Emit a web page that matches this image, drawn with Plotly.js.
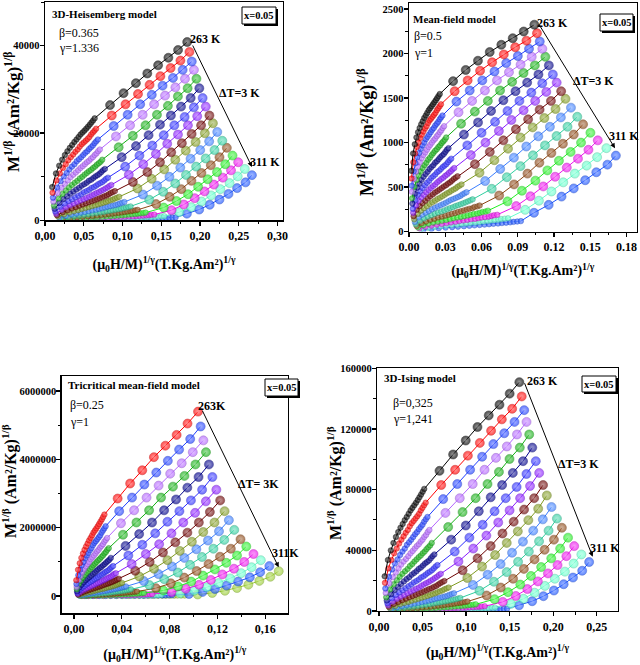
<!DOCTYPE html>
<html><head><meta charset="utf-8">
<script src="https://cdn.plot.ly/plotly-3.0.1.min.js"></script>
<style>html,body{margin:0;padding:0;background:#fff}#chart{width:640px;height:665px}</style>
</head><body><div id="chart"></div>
<script>
// Isotherm temperatures (K), step 3 K
const temps = [263,266,269,272,275,278,281,284,287,290,293,296,299,302,305,308,311];
// Applied field points (T)
const fieldT = [0.05,0.10,0.15,0.20,0.25,0.30,0.35,0.40,0.45,0.50,0.55,0.60,0.65,0.70,0.75,0.80,0.85,0.90,0.95,1.00,
                1.5,2.0,2.5,3.0,3.5,4.0,4.5,5.0];
// Magnetization M (Am²/kg) for each isotherm, at the fields above
const M263 = [26.1,29.6,31.3,32.5,33.4,34.1,34.7,35.2,35.7,36.1,36.5,36.9,37.2,37.5,37.8,38.1,38.4,38.7,39.0,39.3, 41.1,42.6,43.8,44.9,45.8,46.6,47.4,48.2];
const M266 = [24.4,27.9,29.6,30.8,31.6,32.4,33.0,33.5,34.0,34.4,34.9,35.3,35.6,35.9,36.2,36.5,36.9,37.2,37.5,37.8, 39.7,41.2,42.5,43.6,44.6,45.5,46.3,47.2];
const M269 = [22.7,26.0,27.7,28.9,29.7,30.5,31.1,31.6,32.2,32.6,33.0,33.4,33.8,34.1,34.5,34.8,35.1,35.5,35.8,36.1, 38.2,39.8,41.2,42.4,43.5,44.4,45.3,46.2];
const M272 = [21.1,24.3,25.9,27.0,27.9,28.7,29.3,29.8,30.3,30.8,31.2,31.6,32.0,32.3,32.7,33.0,33.4,33.7,34.1,34.4, 36.6,38.3,39.8,41.2,42.3,43.3,44.3,45.3];
const M275 = [19.3,22.4,24.0,25.1,26.0,26.7,27.3,27.8,28.4,28.8,29.3,29.7,30.1,30.4,30.8,31.1,31.5,31.8,32.1,32.5, 34.8,36.7,38.3,39.8,41.0,42.2,43.2,44.3];
const M278 = [17.7,20.6,22.2,23.2,24.1,24.8,25.4,25.9,26.5,26.9,27.3,27.8,28.1,28.5,28.9,29.2,29.5,29.9,30.3,30.6, 33.0,35.0,36.8,38.4,39.7,40.9,42.0,43.2];
const M281 = [16.0,18.8,20.3,21.3,22.1,22.8,23.4,23.9,24.5,24.9,25.3,25.8,26.1,26.5,26.9,27.2,27.5,27.9,28.3,28.6, 31.1,33.3,35.1,36.8,38.3,39.5,40.8,42.0];
const M284 = [14.5,17.1,18.6,19.6,20.3,21.0,21.6,22.1,22.6,23.0,23.5,23.9,24.3,24.6,25.0,25.3,25.7,26.0,26.4,26.7, 29.3,31.6,33.6,35.4,36.9,38.3,39.6,40.9];
const M287 = [13.1,15.6,16.9,17.9,18.6,19.3,19.9,20.4,20.9,21.3,21.7,22.1,22.5,22.8,23.2,23.5,23.9,24.3,24.6,24.9, 27.5,29.9,32.0,33.9,35.5,37.0,38.3,39.7];
const M290 = [11.7,14.0,15.3,16.2,16.9,17.6,18.1,18.6,19.1,19.5,19.9,20.3,20.7,21.0,21.4,21.7,22.0,22.4,22.7,23.0, 25.7,28.3,30.5,32.5,34.2,35.7,37.1,38.6];
const M293 = [10.3,12.5,13.7,14.5,15.2,15.8,16.3,16.8,17.2,17.6,18.0,18.4,18.8,19.1,19.4,19.7,20.0,20.4,20.7,21.0, 23.8,26.5,28.8,30.9,32.7,34.3,35.8,37.3];
const M296 = [9.0,11.0,12.1,12.9,13.5,14.1,14.6,15.0,15.4,15.8,16.2,16.5,16.9,17.2,17.5,17.8,18.1,18.4,18.7,19.0, 21.9,24.7,27.1,29.25,31.1,32.75,34.3,35.9];
const M299 = [7.8,9.6,10.6,11.4,11.9,12.5,12.9,13.3,13.7,14.1,14.4,14.8,15.1,15.4,15.7,16.0,16.2,16.6,16.8,17.1, 20.1,23.0,25.5,27.8,29.7,31.4,33.0,34.7];
const M302 = [6.7,8.4,9.3,10.0,10.5,11.0,11.4,11.8,12.2,12.5,12.8,13.1,13.4,13.7,14.0,14.2,14.5,14.8,15.0,15.3, 18.4,21.4,23.9,26.2,28.2,29.9,31.6,33.3];
const M305 = [5.8,7.3,8.1,8.7,9.2,9.7,10.1,10.4,10.8,11.1,11.4,11.7,11.9,12.2,12.5,12.7,12.9,13.2,13.5,13.7, 16.9,19.9,22.5,24.8,26.8,28.6,30.3,32.0];
const M308 = [5.0,6.3,7.1,7.6,8.1,8.5,8.8,9.2,9.5,9.8,10.0,10.3,10.6,10.8,11.1,11.3,11.5,11.8,12.0,12.2, 15.6,18.6,21.2,23.5,25.5,27.2,28.9,30.6];
const M311 = [4.2,5.4,6.1,6.6,7.0,7.4,7.7,8.0,8.3,8.55,8.8,9.05,9.3,9.5,9.75,9.95,10.15,10.4,10.6,10.8, 14.5,17.3,19.8,22.0,24.0,25.8,27.4,29.2];
const isotherms = [M263,M266,M269,M272,M275,M278,M281,M284,M287,M290,M293,M296,M299,M302,M305,M308,M311];

// Critical-exponent models (one panel each)
const modelNames = ['3D-Heisemberg model','Mean-field model','Tricritical mean-field model','3D-Ising model'];
const betas  = [0.365, 0.5, 0.25, 0.325];
const gammas = [1.336, 1, 1, 1.241];
const betaLabels  = ['β=0.365','β=0.5','β=0.25','β=0,325'];
const gammaLabels = ['γ=1.336','γ=1','γ=1','γ=1,241'];
const topLabels = ['263 K','263 K','263K','263 K'];
const botLabels = ['311 K','311 K','311K','311 K'];
const dtLabels  = ['ΔT=3 K','ΔT=3 K','ΔT= 3K','ΔT=3 K'];
const mfTickVals = [0,0.03,0.06,0.09,0.12,0.15,0.18];
const mfTickText = ['0.00','0.03','0.06','0.09','0.12','0.15','0.18'];

const palette = ['#000000','#ff0000','#1f3fff','#b566ff','#14b014','#00008b','#2e2eff','#8a1cff',
                 '#6b0000','#7f9a1f','#3a7dff','#2fcf9f','#8b4513','#22ee22','#ee10ee','#66ffcc','#1a53ff','#9acd32'];
const colorStart = [0,0,1,0];

// ---------- layout geometry (pixels) ----------
const W = 640, H = 665;
const boxes = [ // left, right, top, bottom
  [45, 283, 2, 220.3],
  [409, 636.5, 3, 231.5],
  [61.7, 288, 376, 613.3],
  [377.3, 617.7, 368.3, 611]
];
const xRanges = [[0,0.307],[0,0.1883],[-0.0103,0.179],[-0.002,0.274]];
const yRanges = [[0,50000],[0,2567],[-506000,6.44e6],[0,160000]];
const xDt = [0.05,0.03,0.04,0.05];
const yDt = [20000,500,2000000,40000];

const FONT = '"Liberation Serif","Times New Roman",serif';
const px = v => v / W, py = v => 1 - v / H;

function mix(hex, target, t) {
  const a = parseInt(hex.slice(1), 16), b = parseInt(target.slice(1), 16);
  const ch = s => [(s >> 16) & 255, (s >> 8) & 255, s & 255];
  const A = ch(a), B = ch(b);
  return 'rgb(' + A.map((v, i) => Math.round(v + (B[i] - v) * t)).join(',') + ')';
}

const traces = [];
for (let p = 0; p < 4; p++) {
  const sfx = p === 0 ? '' : String(p + 1);
  for (let k = isotherms.length - 1; k >= 0; k--) {
    const M = isotherms[k];
    const xs = fieldT.map((h, i) => Math.pow(h / M[i], 1 / gammas[p]));
    const ys = M.map(m => Math.pow(m, 1 / betas[p]));
    const col = palette[k + colorStart[p]];
    traces.push({
      type: 'scatter', mode: 'lines+markers', x: xs, y: ys,
      xaxis: 'x' + sfx, yaxis: 'y' + sfx, name: temps[k] + ' K',
      line: {color: col, width: 1},
      marker: {color: col, size: fieldT.map(h => h <= 1 ? 5.5 : 9),
               line: {color: mix(col, '#000000', 0.25), width: 0.6},
               gradient: {type: 'radial', color: mix(col, '#ffffff', 0.45)}},
      hoverinfo: 'skip'
    });
  }
}

const layout = {
  width: W, height: H, margin: {l: 0, r: 0, t: 0, b: 0},
  paper_bgcolor: '#fff', plot_bgcolor: '#fff', showlegend: false,
  separators: ',.', font: {family: FONT, color: '#000'},
  annotations: [], shapes: []
};

const yTitle = 'M<sup>1/β</sup> (Am²/Kg)<sup>1/β</sup>';
const xTitle = '(μ<sub>0</sub>H/M)<sup>1/γ</sup>(T.Kg.Am²)<sup>1/γ</sup>';
const xStand = [17, 12, 14, 14];
const yTitleXY = [[12,112],[366,132],[10,481],[334,483]];
const yTitleSize = [17, 18, 16, 16];

for (let p = 0; p < 4; p++) {
  const sfx = p === 0 ? '' : String(p + 1);
  const [L, R, T, B] = boxes[p];
  const common = {
    showgrid: false, zeroline: false, showline: true, linecolor: '#000', linewidth: 1.4,
    mirror: true, ticks: 'outside', ticklen: 4, tickwidth: 1.3, tickcolor: '#000'
  };
  const xa = Object.assign({}, common, {
    domain: [px(L), px(R)], range: xRanges[p], anchor: 'y' + sfx,
    tickfont: {family: FONT, size: 12, color: '#000', weight: 'bold'},
    title: {text: '<b>' + xTitle + '</b>', font: {family: FONT, size: 14, color: '#000'}, standoff: xStand[p]},
    minor: {ticks: 'outside', ticklen: 2.5, tickwidth: 1, tickcolor: '#000', dtick: xDt[p] / 2, tick0: 0}
  });
  if (p === 1) { xa.tickmode = 'array'; xa.tickvals = mfTickVals; xa.ticktext = mfTickText; }
  else { xa.dtick = xDt[p]; xa.tick0 = 0; xa.tickformat = '.2f'; }
  const ya = Object.assign({}, common, {
    domain: [py(B), py(T)], range: yRanges[p], anchor: 'x' + sfx,
    dtick: yDt[p], tick0: 0, tickformat: 'd', ticklabelstandoff: -2,
    tickfont: {family: FONT, size: 10.5, color: '#000', weight: 'bold'},
    minor: {ticks: 'outside', ticklen: 2.5, tickwidth: 1, tickcolor: '#000', dtick: yDt[p] / 2, tick0: 0}
  });
  layout['xaxis' + sfx] = xa;
  layout['yaxis' + sfx] = ya;
}

// ----- text annotations (pixel positions) -----
const nameXY  = [[50,14],[411,19],[66,385],[382,378]];
const betaXY  = [[57,33],[412,36],[68,405],[391,403]];
const gammaXY = [[57,48],[412,53],[68,422],[391,419]];
const topXY   = [[205,39],[552,23],[212,406],[542,381]];
const dtXY    = [[239,93],[593,81],[258,484],[578,464]];
const botXY   = [[265,162],[624,136],[285,553],[605,548]];
const arrowHead = [[252,167],[615,148.3],[278.7,567.3],[592.7,556.7]];
const arrowOff  = [[-60,-123],[-76.7,-125],[-77,-158],[-68.7,-175]];
const xBox = [[242,276,7,24],[600,633,14,31],[265,298,379,396],[582,616,376,392]];

const ann = (x, y, text, opts) => Object.assign({
  xref: 'paper', yref: 'paper', x: px(x), y: py(y), text: text, showarrow: false,
  xanchor: 'center', yanchor: 'middle', font: {family: FONT, size: 11, color: '#000'}
}, opts || {});

for (let p = 0; p < 4; p++) {
  layout.annotations.push(ann(yTitleXY[p][0], yTitleXY[p][1], '<b>' + yTitle + '</b>',
    {textangle: -90, font: {family: FONT, size: yTitleSize[p], color: '#000'}}));
  layout.annotations.push(ann(nameXY[p][0], nameXY[p][1], '<b>' + modelNames[p] + '</b>', {xanchor: 'left'}));
  layout.annotations.push(ann(betaXY[p][0], betaXY[p][1], betaLabels[p], {xanchor: 'left', font: {family: FONT, size: 12, color: '#000'}}));
  layout.annotations.push(ann(gammaXY[p][0], gammaXY[p][1], gammaLabels[p], {xanchor: 'left', font: {family: FONT, size: 12, color: '#000'}}));
  layout.annotations.push(ann(topXY[p][0], topXY[p][1], '<b>' + topLabels[p] + '</b>', {font: {family: FONT, size: 12, color: '#000'}}));
  layout.annotations.push(ann(dtXY[p][0], dtXY[p][1], '<b>' + dtLabels[p] + '</b>', {font: {family: FONT, size: 12, color: '#000'}}));
  layout.annotations.push(ann(botXY[p][0], botXY[p][1], '<b>' + botLabels[p] + '</b>', {font: {family: FONT, size: 12, color: '#000'}}));
  layout.annotations.push({
    xref: 'paper', yref: 'paper', x: px(arrowHead[p][0]), y: py(arrowHead[p][1]),
    ax: arrowOff[p][0], ay: arrowOff[p][1], text: '', showarrow: true,
    arrowhead: 2, arrowsize: 1, arrowwidth: 1, arrowcolor: '#000'
  });
  const [x0, x1, y0, y1] = xBox[p];
  layout.shapes.push({type: 'rect', xref: 'paper', yref: 'paper', x0: px(x0 + 2), x1: px(x1 + 2), y0: py(y0 + 2), y1: py(y1 + 2),
    fillcolor: '#000', line: {width: 0}, layer: 'above'});
  layout.shapes.push({type: 'rect', xref: 'paper', yref: 'paper', x0: px(x0), x1: px(x1), y0: py(y0), y1: py(y1),
    fillcolor: '#fff', line: {width: 1, color: '#000'}, layer: 'above'});
  layout.annotations.push(ann((x0 + x1) / 2, (y0 + y1) / 2, '<b>x=0.05</b>', {font: {family: FONT, size: 10.5, color: '#000'}}));
}

Plotly.newPlot('chart', traces, layout, {staticPlot: true, displayModeBar: false});
</script></body></html>
